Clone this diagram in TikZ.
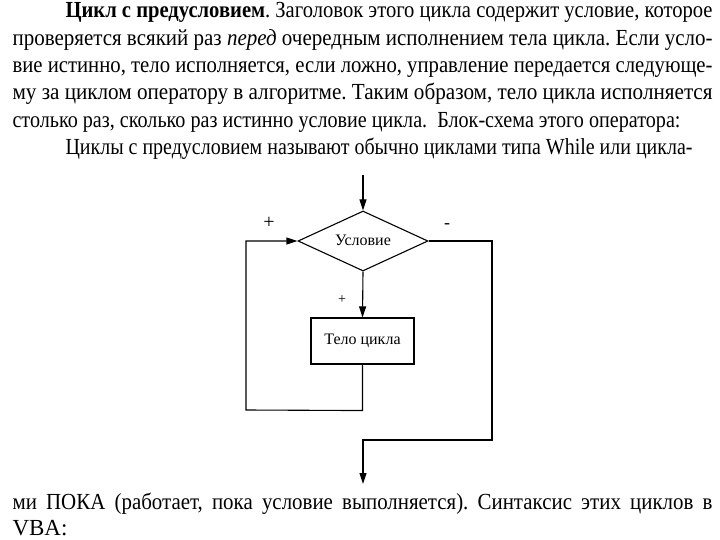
\documentclass[tikz,border=0pt]{standalone}
\usepackage{fontspec}
\setmainfont{Liberation Serif}
\usetikzlibrary{arrows.meta,shapes.geometric}
\frenchspacing
\newcommand{\tline}[2]{\resizebox{#1}{\height}{\fontsize{23}{23}\selectfont #2}}
\begin{document}
\begin{tikzpicture}[x=1pt,y=-1pt,line width=1.1pt,
  flow/.style={-{Triangle[length=11pt,width=7pt]}},
  txt/.style={anchor=base west,inner sep=0pt},
  lbl/.style={inner sep=0pt},
  decision/.style={draw,diamond,aspect=2.1667,minimum width=130pt,minimum height=60pt,inner sep=0pt,font=\fontsize{16}{16}\selectfont},
  process/.style={draw,rectangle,minimum width=103pt,minimum height=46pt,inner sep=0pt,font=\fontsize{16}{16}\selectfont}]
\useasboundingbox (0,0) rectangle (720,540);
\fill[white] (0,0) rectangle (720,540);
% text above
\node[txt] (l1) at (65,18) {\tline{647pt}{\textbf{Цикл с предусловием}. Заголовок этого цикла содержит условие, которое}};
\node[txt] (l2) at (12,45.3) {\tline{700pt}{проверяется всякий раз \textit{перед} очередным исполнением тела цикла. Если усло-}};
\node[txt] (l3) at (12,72.6) {\tline{700pt}{вие истинно, тело исполняется, если ложно, управление передается следующе-}};
\node[txt] (l4) at (12,99.9) {\tline{700pt}{му за циклом оператору в алгоритме. Таким образом, тело цикла исполняется}};
\node[txt] (l5) at (12,127.2) {\tline{668pt}{столько раз, сколько раз истинно условие цикла.\ \ Блок-схема этого оператора:}};
\node[txt] (l6) at (65,154.5) {\tline{627pt}{Циклы с предусловием называют обычно циклами типа While или цикла-}};
% diagram
\coordinate (start) at (363,175);
\node[decision] (cond) at (363,241) {\raisebox{2pt}{Условие}};
\node[process] (body) at (362.5,341) {\raisebox{3pt}{Тело цикла}};
\coordinate (exit) at (363,484);
\draw[flow] (start) -- (cond.north);
\draw[flow] (cond.south) -- (body.north);
\draw[flow] (body.south) -- ++(0,46) -- (246,410) |- (cond.west);
\draw[flow] (cond.east) -- (492,241) -- (492,440) -| (exit);
\node[lbl,font=\fontsize{20}{20}\selectfont] (plusA) at (269,223) {+};
\node[lbl,font=\fontsize{14}{14}\selectfont] (plusB) at (342,300) {+};
\node[lbl,font=\fontsize{18}{18}\selectfont] (minus) at (447,226) {-};
% text below
\node[txt] (b1) at (12,509) {\resizebox{700pt}{\height}{\makebox[770pt][s]{\fontsize{23}{23}\selectfont ми ПОКА (работает, пока условие выполняется). Синтаксис этих циклов в}}};
\node[txt] (b2) at (12,535) {\resizebox{!}{\height}{\fontsize{23}{23}\selectfont VBA:}};
\end{tikzpicture}
\end{document}
